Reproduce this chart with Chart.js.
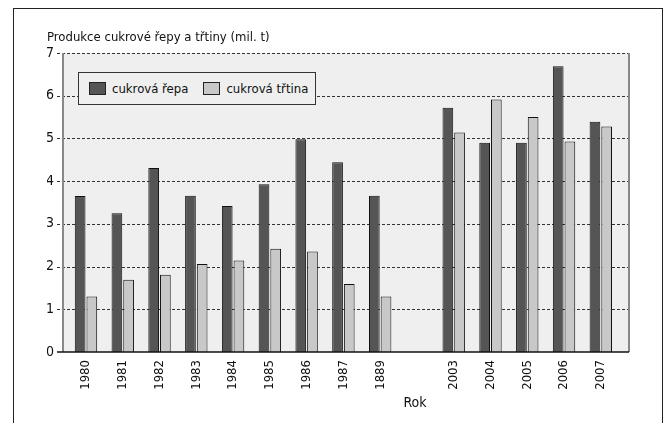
<!DOCTYPE html>
<html>
<head>
<meta charset="utf-8">
<script src="https://cdn.jsdelivr.net/npm/chart.js@4"></script>
<style>
  html, body { margin: 0; padding: 0; background: #fff; }
  #wrap { position: relative; width: 670px; height: 423px; overflow: hidden; }
  #frame { position: absolute; left: 13px; top: 8px; width: 648px; height: 440px; border: 1.5px solid #222; }
  #chart { position: absolute; left: 0; top: 0; }
  #legend {
    position: absolute; left: 78px; top: 72px; width: 236px; height: 31px;
    border: 1px solid #333; background: #eeefee; display: flex; align-items: center; white-space: nowrap;
    font: 13px "Liberation Sans Narrow", "DejaVu Sans Condensed", "Arial Narrow", sans-serif; color: #111;
  }
  #legend .item { display: flex; align-items: center; margin-left: 10px; }
  #legend .item + .item { margin-left: 15px; }
  #legend .sw { width: 15px; height: 11px; border: 1px solid #222; margin-right: 6px; flex: none; }
</style>
</head>
<body>
<div id="wrap">
  <div id="frame"></div>
  <canvas id="chart" width="670" height="423"></canvas>
  <div id="legend"></div>
</div>
<script>
// kategorie (prázdná pozice = mezera mezi 1889 a 2003)
const roky = ['1980', '1981', '1982', '1983', '1984', '1985', '1986', '1987', '1889', '', '2003', '2004', '2005', '2006', '2007'];
// mil. t
const repa = [3.65, 3.25, 4.31, 3.66, 3.42, 3.93, 4.98, 4.44, 3.66, null, 5.72, 4.90, 4.90, 6.69, 5.39];
const trtina = [1.30, 1.69, 1.81, 2.06, 2.14, 2.42, 2.35, 1.59, 1.30, null, 5.14, 5.91, 5.50, 4.93, 5.28];
const yTicks = [0, 1, 2, 3, 4, 5, 6, 7];

const FONT = '"Liberation Sans Narrow", "DejaVu Sans Condensed", "Arial Narrow", sans-serif';
const TXT = '#111';

// pozadí, mřížka a osy kreslené podle škály y
const plotFrame = {
  id: 'plotFrame',
  beforeDatasetsDraw(chart) {
    const { ctx, chartArea: a, scales: { y } } = chart;
    const l = a.left - 4.6, r = a.right + 9.8;
    ctx.save();
    ctx.fillStyle = '#eeefee';
    ctx.fillRect(l, a.top, r - l, a.bottom - a.top);
    ctx.strokeStyle = '#333';
    ctx.lineWidth = 1;
    ctx.setLineDash([3, 2]);
    yTicks.slice(1).forEach(v => {
      const py = Math.round(y.getPixelForValue(v)) + 0.5;
      ctx.beginPath();
      ctx.moveTo(l - 6, py);
      ctx.lineTo(r, py);
      ctx.stroke();
    });
    ctx.setLineDash([]);
    ctx.strokeStyle = '#888';
    ctx.lineWidth = 2;
    ctx.beginPath();
    ctx.moveTo(l, a.top);
    ctx.lineTo(l, a.bottom);
    ctx.moveTo(r, a.top);
    ctx.lineTo(r, a.bottom);
    ctx.stroke();
    ctx.restore();
  },
  afterDatasetsDraw(chart) {
    const { ctx, chartArea: a, scales: { x, y } } = chart;
    const l = a.left - 4.6, r = a.right + 9.8;
    const py = y.getPixelForValue(0);
    ctx.save();
    ctx.strokeStyle = '#111';
    ctx.lineWidth = 1.5;
    ctx.beginPath();
    ctx.moveTo(l - 6, py);
    ctx.lineTo(r, py);
    ctx.stroke();
    // popisek osy x
    ctx.fillStyle = TXT;
    ctx.font = '14px ' + FONT;
    ctx.textAlign = 'center';
    ctx.textBaseline = 'middle';
    ctx.fillText('Rok', x.getPixelForValue(9) - 2, 403);
    ctx.restore();
  }
};

const chart = new Chart(document.getElementById('chart'), {
  type: 'bar',
  data: {
    labels: roky,
    datasets: [
      { label: 'cukrová řepa', data: repa, backgroundColor: '#555555', borderColor: '#111', borderWidth: 1 },
      { label: 'cukrová třtina', data: trtina, backgroundColor: '#c8c8c8', borderColor: '#111', borderWidth: 1 }
    ]
  },
  options: {
    responsive: false,
    animation: false,
    layout: { padding: { left: 47, right: 50.8, top: 0, bottom: 0 } },
    datasets: { bar: { categoryPercentage: 0.636, barPercentage: 0.915 } },
    plugins: {
      legend: { display: false },
      tooltip: { enabled: false },
      title: {
        display: true,
        text: 'Produkce cukrové řepy a třtiny (mil. t)',
        align: 'start',
        color: TXT,
        font: { family: FONT, size: 13, weight: 'normal' },
        padding: { top: 30, bottom: 7.4 }
      }
    },
    scales: {
      x: {
        offset: true,
        grid: { display: false, drawTicks: false },
        border: { display: false },
        ticks: { minRotation: 90, maxRotation: 90, autoSkip: false, padding: 8, color: TXT, font: { family: FONT, size: 13 } },
        afterFit(s) { s.height = 71; }
      },
      y: {
        min: 0,
        max: 7,
        grid: { display: false, drawTicks: false },
        border: { display: false },
        ticks: { stepSize: 1, padding: 13.5, color: TXT, font: { family: FONT, size: 14 } },
        afterFit(s) { s.width = 20.6; }
      }
    }
  },
  plugins: [plotFrame]
});

// legenda jako HTML
const legend = document.getElementById('legend');
chart.data.datasets.forEach(ds => {
  const item = document.createElement('div');
  item.className = 'item';
  const sw = document.createElement('span');
  sw.className = 'sw';
  sw.style.background = ds.backgroundColor;
  const t = document.createElement('span');
  t.textContent = ds.label;
  item.appendChild(sw);
  item.appendChild(t);
  legend.appendChild(item);
});
</script>
</body>
</html>
